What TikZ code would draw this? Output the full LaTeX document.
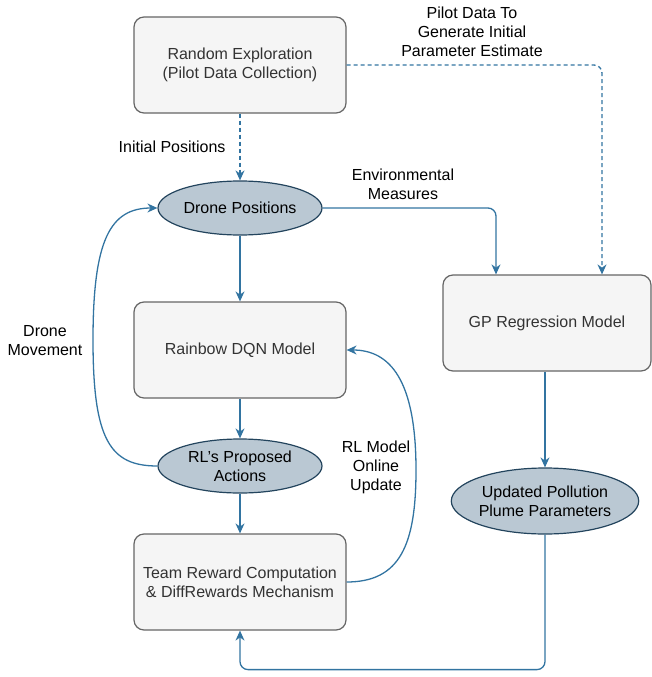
\documentclass[tikz,border=0pt]{standalone}
\usepackage{fontspec}
\setmainfont{Liberation Sans}
\usepackage{tikz}
\usetikzlibrary{shapes.geometric,arrows.meta}
\definecolor{boxfill}{HTML}{F5F5F5}
\definecolor{boxline}{HTML}{666666}
\definecolor{boxtext}{HTML}{333333}
\definecolor{ellfill}{HTML}{BAC8D3}
\definecolor{ellline}{HTML}{23445D}
\definecolor{flow}{HTML}{3274A1}

\begin{document}
\begin{tikzpicture}[x=1pt, y=-1pt,
    every node/.style={font=\fontsize{16}{19}\selectfont, align=center},
    procbox/.style={draw=boxline, fill=boxfill, line width=1.2pt, rounded corners=10pt, minimum width=212pt, minimum height=96pt, text=boxtext},
    stateell/.style={ellipse, draw=ellline, fill=ellfill, line width=1.2pt, inner sep=0pt},
    flowline/.style={draw=flow, line width=1.3pt, -{Stealth[length=10pt,width=9pt]}},
    pilotline/.style={flowline, dash pattern=on 4pt off 3pt}]
    \useasboundingbox (0,0) rectangle (651,677);

    % draw boxes and states
    \node[procbox] (explore) at (240,65) {Random Exploration\\(Pilot Data Collection)};
    \node[stateell, minimum width=164pt, minimum height=54pt] (drone) at (240,208) {Drone Positions};
    \node[procbox] (dqn) at (240,350) {Rainbow DQN Model};
    \node[stateell, minimum width=164pt, minimum height=54pt] (actions) at (240,466) {RL's Proposed\\Actions};
    \node[procbox] (reward) at (240,582) {Team Reward Computation\\\& DiffRewards Mechanism};
    \node[procbox, minimum width=208pt] (gp) at (547,323) {GP Regression Model};
    \node[stateell, minimum width=175pt, minimum height=66pt] (plume) at (545,501) {Updated Pollution\\Plume Parameters};

    % draw labels
    \node[anchor=east] (initlbl) at (229,147) {Initial Positions};
    \node (pilotlbl) at (472,32) {Pilot Data To\\Generate Initial\\Parameter Estimate};
    \node (envlbl) at (403,184) {Environmental\\Measures};
    \node (movelbl) at (45,341) {Drone\\Movement};
    \node (updlbl) at (376,467) {RL Model\\Online\\Update};

    % draw connectors
    \draw[pilotline] (explore) -- (drone);
    \draw[pilotline, rounded corners=8pt] (explore.east) -| ([xshift=55pt]gp.north);
    \draw[flowline, rounded corners=8pt] (drone.east) -| ([xshift=-51pt]gp.north);
    \draw[flowline] (drone) -- (dqn);
    \draw[flowline] (dqn) -- (actions);
    \draw[flowline] (actions) -- (reward);
    \draw[flowline] (gp.south -| plume.north) -- (plume.north);
    \draw[flowline, rounded corners=8pt] (plume.south) -- ++(0,135) -| (reward.south);
    \draw[flowline] (actions.west) .. controls (110,466) and (93,440) .. (93,340) .. controls (93,240) and (110,208) .. (drone.west);
    \draw[flowline] (reward.east) .. controls (400,582) and (416,545) .. (416,470) .. controls (416,380) and (390,350) .. (dqn.east);
\end{tikzpicture}
\end{document}
